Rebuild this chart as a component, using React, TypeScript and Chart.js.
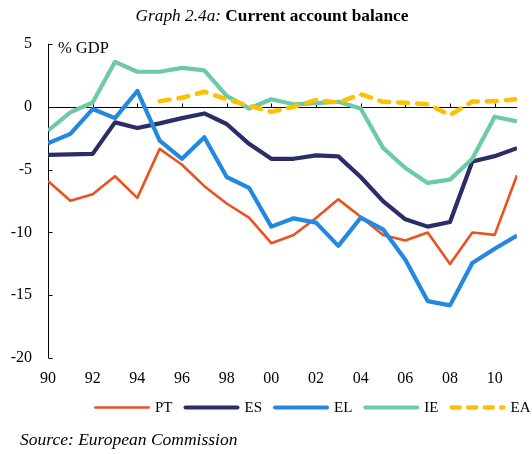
import React, { useEffect, useRef } from 'react';
import { Chart, registerables } from 'chart.js';

Chart.register(...registerables);

const FONT = '"Liberation Serif", "Times New Roman", serif';

const years = [1990, 1991, 1992, 1993, 1994, 1995, 1996, 1997, 1998, 1999, 2000, 2001, 2002, 2003, 2004, 2005, 2006, 2007, 2008, 2009, 2010, 2011];

const PT = [-5.9, -7.48, -6.96, -5.53, -7.25, -3.35, -4.61, -6.32, -7.7, -8.83, -10.86, -10.2, -8.85, -7.37, -8.75, -10.2, -10.65, -10.01, -12.52, -10.01, -10.2, -5.45];
const ES = [-3.82, -3.78, -3.75, -1.24, -1.69, -1.32, -0.9, -0.53, -1.37, -2.95, -4.14, -4.14, -3.87, -3.95, -5.59, -7.51, -8.96, -9.54, -9.17, -4.35, -3.93, -3.29];
const EL = [-2.9, -2.16, -0.18, -0.9, 1.26, -2.69, -4.14, -2.42, -5.59, -6.45, -9.54, -8.88, -9.22, -11.07, -8.83, -9.75, -12.17, -15.47, -15.81, -12.44, -11.3, -10.25];
const IE = [-1.9, -0.45, 0.34, 3.58, 2.79, 2.79, 3.1, 2.9, 0.87, -0.13, 0.6, 0.2, 0.3, 0.4, -0.13, -3.27, -4.87, -6.06, -5.8, -4.14, -0.79, -1.16];
const EA = [null, null, null, null, null, 0.45, 0.72, 1.2, 0.6, 0.08, -0.4, 0.0, 0.55, 0.34, 1.0, 0.4, 0.32, 0.2, -0.66, 0.42, 0.45, 0.61];

const seriesNames = ['PT', 'ES', 'EL', 'IE', 'EA'];
const seriesColors = ['#E8531F', '#2B2D66', '#2389E0', '#6DC9A6', '#FFC000'];

const Y_MIN = -20;
const Y_MAX = 5;
const Y_STEP = 5;
const X_STEP = 2;

const axesPlugin = {
  id: 'customAxes',
  beforeDatasetsDraw(chart: any) {
    const { ctx, chartArea, scales } = chart;
    const { left, right, top, bottom } = chartArea;
    const x = scales.x;
    const y = scales.y;
    ctx.save();
    ctx.strokeStyle = '#000';
    ctx.lineWidth = 1;
    ctx.setLineDash([]);
    ctx.beginPath();
    const ax = Math.round(left) + 0.5;
    ctx.moveTo(ax, top);
    ctx.lineTo(ax, bottom);
    y.ticks.forEach((t: any) => {
      const py = Math.round(y.getPixelForValue(t.value)) + 0.5;
      ctx.moveTo(ax, py);
      ctx.lineTo(ax + 4, py);
    });
    const zy = Math.round(y.getPixelForValue(0)) + 0.5;
    ctx.moveTo(left, zy);
    ctx.lineTo(right, zy);
    x.ticks.forEach((t: any) => {
      const px = Math.round(x.getPixelForValue(t.value)) + 0.5;
      ctx.moveTo(px, zy);
      ctx.lineTo(px, zy - 4);
    });
    ctx.stroke();
    ctx.restore();
  },
};

const legendPlugin = {
  id: 'customLegend',
  afterDraw(chart: any) {
    const { ctx } = chart;
    const datasets = chart.data.datasets.slice().sort((a: any, b: any) => a.legendIndex - b.legendIndex);
    let x0 = 94;
    const cy = 407.5;
    const lineLen = 56;
    ctx.save();
    ctx.font = `15px ${FONT}`;
    ctx.textBaseline = 'middle';
    ctx.textAlign = 'left';
    datasets.forEach((ds: any) => {
      ctx.beginPath();
      ctx.strokeStyle = ds.borderColor;
      ctx.lineWidth = ds.borderWidth;
      ctx.lineCap = 'round';
      ctx.setLineDash(ds.legendDash || []);
      const hw = ds.borderWidth / 2;
      ctx.moveTo(x0 + hw, cy);
      ctx.lineTo(x0 + lineLen - hw, cy);
      ctx.stroke();
      ctx.setLineDash([]);
      ctx.fillStyle = '#000';
      const tx = x0 + lineLen + 5;
      ctx.fillText(ds.label, tx, cy + 1);
      x0 = tx + ctx.measureText(ds.label).width + 11;
    });
    ctx.restore();
  },
};

export default function App() {
  const ref = useRef<HTMLCanvasElement | null>(null);

  useEffect(() => {
    if (!ref.current) return;
    const values = [PT, ES, EL, IE, EA];
    const widths = [2.6, 4.2, 4.2, 4.2, 4.5];
    const drawOrder = [4, 3, 2, 1, 0];
    const datasets = values.map((vals, i) => ({
      label: seriesNames[i],
      data: vals,
      borderColor: seriesColors[i],
      backgroundColor: seriesColors[i],
      borderWidth: widths[i],
      pointRadius: 0,
      pointHoverRadius: 0,
      tension: 0,
      fill: false,
      spanGaps: false,
      borderJoinStyle: 'round' as const,
      borderCapStyle: (i === 4 ? 'round' : 'butt') as any,
      borderDash: i === 4 ? [10, 9] : [],
      legendDash: i === 4 ? [8, 8.5] : [],
      legendIndex: i,
      order: drawOrder[i],
    }));

    const chart = new Chart(ref.current, {
      type: 'line',
      data: { labels: years, datasets: datasets as any },
      options: {
        animation: false,
        responsive: false,
        maintainAspectRatio: false,
        events: [],
        layout: { padding: { top: 44, right: 15, left: 0, bottom: 0 } },
        plugins: {
          legend: { display: false },
          tooltip: { enabled: false },
          title: { display: false },
        },
        scales: {
          x: {
            type: 'linear',
            min: years[0],
            max: years[years.length - 1],
            afterFit: (s: any) => { s.height = 96; },
            grid: { display: false, drawTicks: false },
            border: { display: false },
            ticks: {
              stepSize: X_STEP,
              autoSkip: false,
              maxRotation: 0,
              includeBounds: false,
              padding: 11,
              color: '#000',
              font: { family: FONT, size: 16 },
              callback: (v: any) => String(Number(v) % 100).padStart(2, '0'),
            },
          },
          y: {
            min: Y_MIN,
            max: Y_MAX,
            afterFit: (s: any) => { s.width = 48; },
            grid: { display: false, drawTicks: false },
            border: { display: false },
            ticks: {
              stepSize: Y_STEP,
              padding: 16,
              color: '#000',
              font: { family: FONT, size: 16 },
            },
          },
        },
      },
      plugins: [axesPlugin, legendPlugin],
    });
    return () => chart.destroy();
  }, []);

  const wrap: React.CSSProperties = {
    position: 'fixed', left: 0, top: 0, width: 532, height: 454, background: '#fff', fontFamily: FONT, color: '#000',
  };
  return (
    <div style={wrap}>
      <canvas ref={ref} width={532} height={454} style={{ position: 'absolute', left: 0, top: 0, width: 532, height: 454, display: 'block' }} />
      <div style={{ position: 'absolute', left: 6, top: 6.5, width: 532, textAlign: 'center', fontSize: 17.3, lineHeight: '17px', whiteSpace: 'nowrap' }}>
        <i>Graph 2.4a:</i> <b>Current account balance</b>
      </div>
      <div style={{ position: 'absolute', left: 58, top: 40, fontSize: 16.5, lineHeight: '16px', whiteSpace: 'nowrap' }}>% GDP</div>
      <div style={{ position: 'absolute', left: 20, top: 431, fontSize: 17.5, lineHeight: '17.5px', fontStyle: 'italic', whiteSpace: 'nowrap' }}>
        Source: European Commission
      </div>
    </div>
  );
}
